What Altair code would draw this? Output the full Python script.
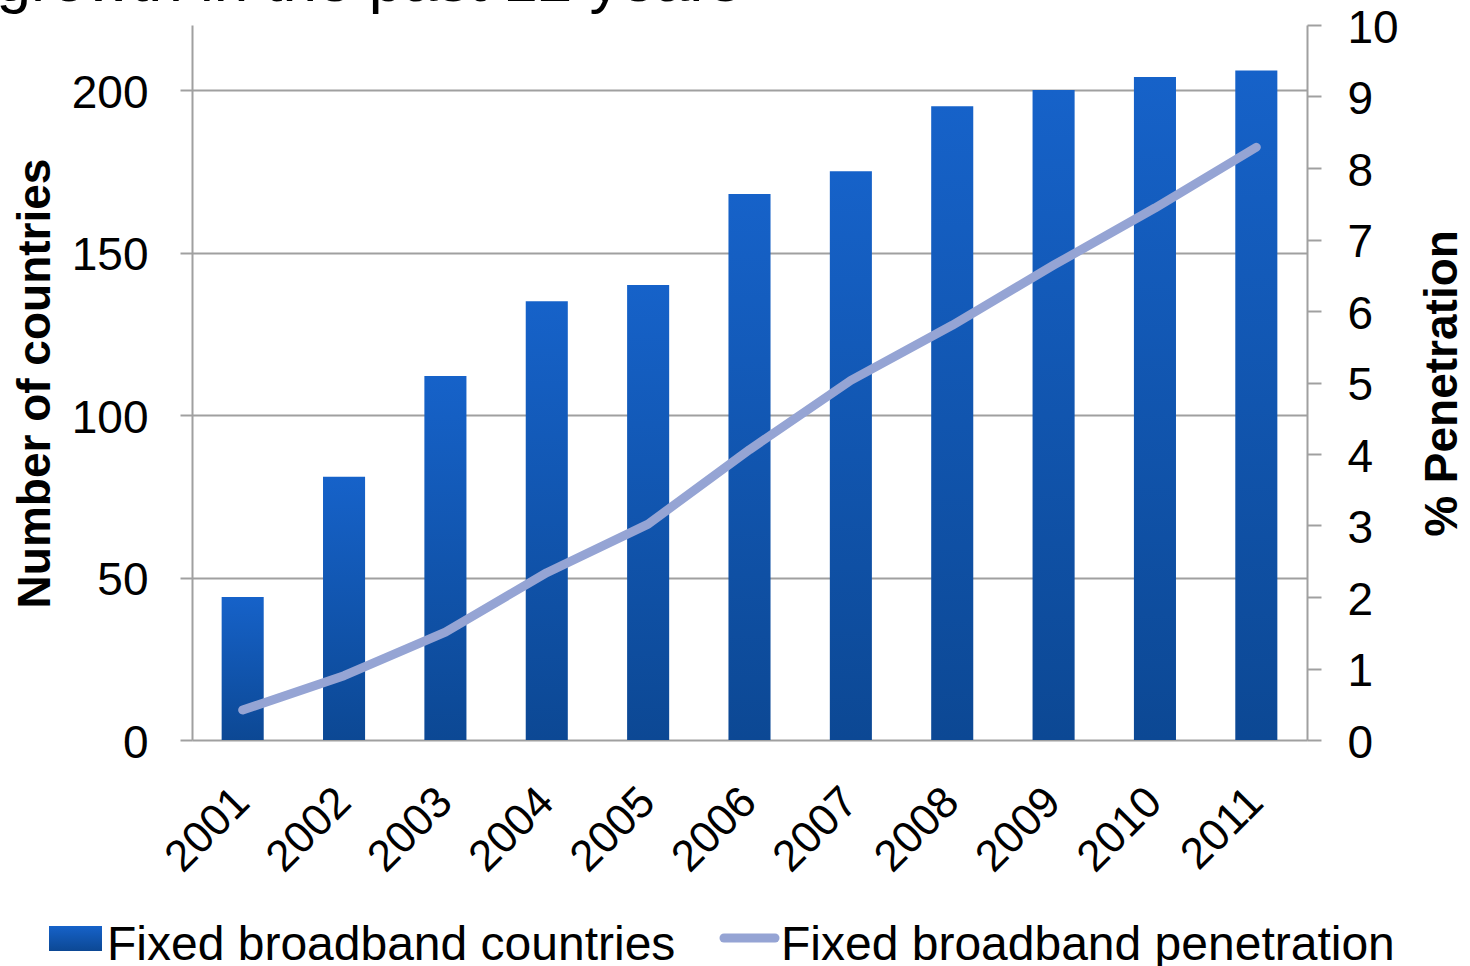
import altair as alt
import pandas as pd

years = ["2001", "2002", "2003", "2004", "2005", "2006", "2007", "2008", "2009", "2010", "2011"]
countries = [44, 81, 112, 135, 140, 168, 175, 195, 200, 204, 206]
penetration = [0.42, 0.9, 1.51, 2.34, 3.02, 4.06, 5.03, 5.8, 6.64, 7.44, 8.29]

left_ticks = [0, 50, 100, 150, 200]
right_ticks = [0, 1, 2, 3, 4, 5, 6, 7, 8, 9, 10]

title_text = "growth in the past 12 years"
legend_labels = ["Fixed broadband countries", "Fixed broadband penetration"]

df = pd.DataFrame({"year": years, "countries": countries, "penetration": penetration})
one = pd.DataFrame({"k": [0]})

FONT = "Liberation Sans"
AX = "#a0a0a0"
PL, PT = 192, 25  # plot origin in page
W, H = 1115, 715

grad = alt.LinearGradient(
    gradient="linear",
    stops=[alt.GradientStop(color="#1662c9", offset=0),
           alt.GradientStop(color="#0c4894", offset=1)],
    x1=0, x2=0, y1=0, y2=1,
)

xenc = alt.X(
    "year:N", sort=years,
    scale=alt.Scale(paddingInner=0.585, paddingOuter=0.2925),
    axis=alt.Axis(title=None, labelAngle=-45, labelFontSize=44, labelFont=FONT,
                  labelColor="black", ticks=False, domain=False, labelPadding=55,
                  labelAlign="right", labelBaseline="middle", grid=False),
)

bars = alt.Chart(df).mark_bar(color=grad).encode(
    x=xenc,
    y=alt.Y("countries:Q", scale=alt.Scale(domain=[0, 220], nice=False, zero=True),
            axis=alt.Axis(values=left_ticks, title="Number of countries", orient="left",
                          grid=True, gridColor=AX, gridWidth=2, domainColor=AX, domainWidth=2,
                          tickColor=AX, tickWidth=2, tickSize=12,
                          labelFontSize=46, labelFont=FONT, labelColor="black", labelPadding=32,
                          labelOffset=3,
                          titleFontSize=46, titleFont=FONT, titleFontWeight="bold",
                          titleColor="black", titleAngle=270, titleAlign="center",
                          titleBaseline="middle", titleX=35 - PL, titleY=383 - PT)),
)

line = alt.Chart(df).mark_line(color="#95a4d4", strokeWidth=9, strokeCap="round",
                               strokeJoin="round").encode(
    x=xenc,
    y=alt.Y("penetration:Q", scale=alt.Scale(domain=[0, 10], nice=False),
            axis=alt.Axis(values=right_ticks, title="% Penetration", orient="right",
                          grid=False, domainColor=AX, domainWidth=2,
                          tickColor=AX, tickWidth=2, tickSize=14,
                          labelFontSize=46, labelFont=FONT, labelColor="black", labelPadding=26,
                          labelOffset=3,
                          titleFontSize=46, titleFont=FONT, titleFontWeight="bold",
                          titleColor="black", titleAngle=270, titleAlign="center",
                          titleBaseline="middle", titleX=1442 - (PL + W), titleY=383 - PT)),
)

top_title = alt.Chart(one).mark_text(
    text=title_text, fontSize=62, font=FONT, align="right", baseline="alphabetic", color="black"
).encode(x=alt.value(741 - PL), y=alt.value(1 - PT))

leg_rect = alt.Chart(one).mark_rect(color=grad).encode(
    x=alt.value(49 - PL), x2=alt.value(102 - PL), y=alt.value(926 - PT), y2=alt.value(951 - PT))
leg_t1 = alt.Chart(one).mark_text(
    text=legend_labels[0], fontSize=48, font=FONT, align="left", baseline="alphabetic", color="black"
).encode(x=alt.value(107 - PL), y=alt.value(960 - PT))
leg_line = alt.Chart(one).mark_rule(color="#95a4d4", strokeWidth=9, strokeCap="round").encode(
    x=alt.value(724 - PL), x2=alt.value(775 - PL), y=alt.value(938 - PT))
leg_t2 = alt.Chart(one).mark_text(
    text=legend_labels[1], fontSize=48, font=FONT, align="left", baseline="alphabetic", color="black"
).encode(x=alt.value(781 - PL), y=alt.value(960 - PT))

chart = alt.layer(bars, line, top_title, leg_rect, leg_t1, leg_line, leg_t2).resolve_scale(
    y="independent"
).properties(
    width=W, height=H,
    autosize=alt.AutoSizeParams(type="none"),
    padding={"left": PL, "top": PT, "right": 1470 - PL - W, "bottom": 966 - PT - H},
    background="white",
).configure_view(stroke=None)

chart.save("out.html", embed_options={"renderer": "svg", "actions": False})
